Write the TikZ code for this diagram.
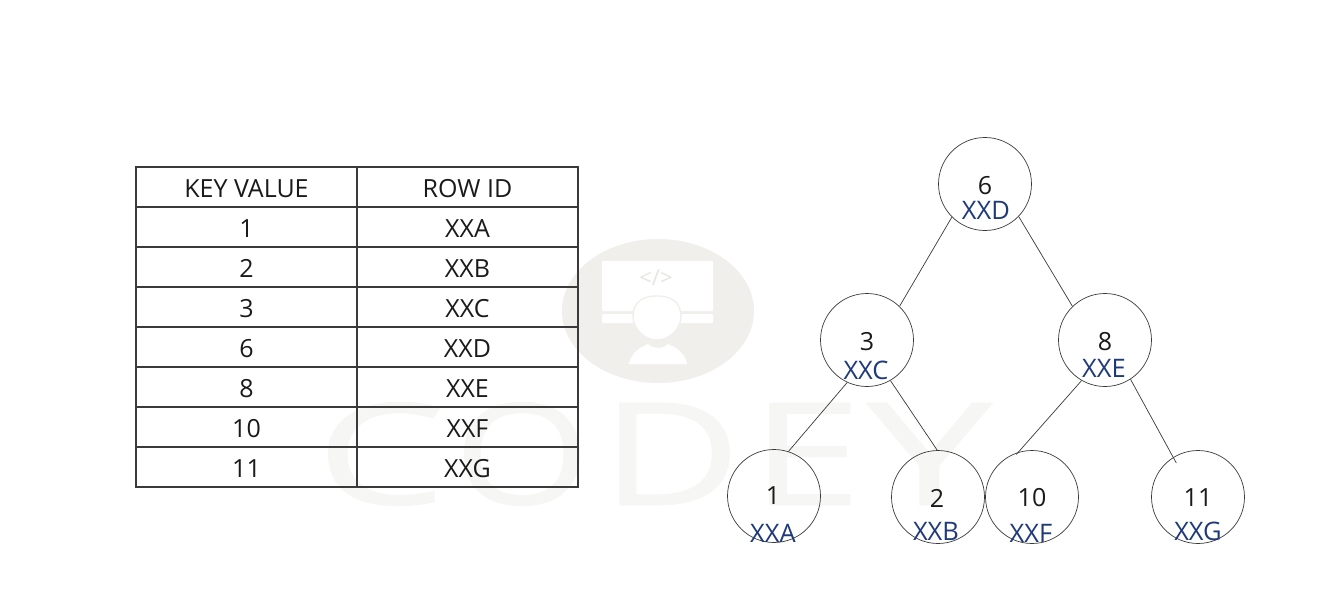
\documentclass[tikz,border=0pt]{standalone}
\usepackage{fontspec}
\setmainfont{Open Sans}
\newfontfamily\wmfont[FakeBold=0.5]{Open Sans}
\usetikzlibrary{shapes.geometric}
\definecolor{wmark}{HTML}{F6F6F5}
\definecolor{logo}{HTML}{F0EFEC}
\definecolor{logotxt}{HTML}{E6E5E1}
\definecolor{ink}{HTML}{1A1A1A}
\definecolor{blueid}{HTML}{1F3A7A}
\definecolor{rule}{HTML}{3A3A3A}
\tikzset{
  cellbox/.style={draw=rule,line width=1.1pt,minimum width=221pt,minimum height=40pt,inner sep=0pt,text=ink,text height=20pt,text depth=0pt,font=\fontsize{25}{28}\selectfont},
  treecirc/.style={circle,draw=rule,line width=0.7pt,minimum size=93pt,inner sep=0pt},
  treeedge/.style={draw=rule,line width=0.7pt},
  numlabel/.style={text=ink,inner sep=0pt,font=\fontsize{25}{28}\selectfont},
  idlabel/.style={text=blueid,inner sep=0pt,font=\fontsize{25.5}{28}\selectfont},
  wmletter/.style={text=wmark,inner sep=0pt,anchor=center}
}
\newcommand{\wml}[2]{\resizebox{#1pt}{102pt}{\wmfont\fontsize{140}{140}\selectfont #2}}
\begin{document}
\begin{tikzpicture}[x=1pt,y=-1pt]
\useasboundingbox (0,0) rectangle (1326,597);
\fill[white] (0,0) rectangle (1326,597);
% logo
\node[ellipse,fill=logo,minimum width=192pt,minimum height=144pt,inner sep=0pt] (logoback) at (658,311) {};
\fill[white,rounded corners=1pt] (602,261) rectangle (713,311);
\fill[white,rounded corners=1pt] (602,314) rectangle (713,323);
\path[fill=white,draw=logo,line width=1.4pt] (657,296) .. controls (674,296) and (681,304) .. (681,317) .. controls (681,327) and (671,340) .. (657,340) .. controls (643,340) and (633,327) .. (633,317) .. controls (633,304) and (640,296) .. (657,296) -- cycle;
\fill[white] (629,364) .. controls (631,353) and (640,347) .. (648,344) .. controls (652,349) and (664,349) .. (668,344) .. controls (676,347) and (685,353) .. (687,364) -- cycle;
\node[text=logotxt,inner sep=0pt,font=\fontsize{22}{24}\selectfont] (logocode) at (656,278) {</>};
% watermark
\node[wmletter] (wmC) at (381,454) {\wml{130}{C}};
\node[wmletter] (wmO) at (522,454) {\wml{136}{O}};
\node[wmletter] (wmD) at (671,454) {\wml{140}{D}};
\node[wmletter] (wmE) at (806,454) {\wml{112}{E}};
\node[wmletter] (wmY) at (929.5,454) {\wml{126}{Y}};
% table
\node[cellbox] (k0) at (246.5,187) {KEY VALUE};
\node[cellbox] (v0) at (467.5,187) {ROW ID};
\node[cellbox] (k1) at (246.5,227) {1};
\node[cellbox] (v1) at (467.5,227) {XXA};
\node[cellbox] (k2) at (246.5,267) {2};
\node[cellbox] (v2) at (467.5,267) {XXB};
\node[cellbox] (k3) at (246.5,307) {3};
\node[cellbox] (v3) at (467.5,307) {XXC};
\node[cellbox] (k4) at (246.5,347) {6};
\node[cellbox] (v4) at (467.5,347) {XXD};
\node[cellbox] (k5) at (246.5,387) {8};
\node[cellbox] (v5) at (467.5,387) {XXE};
\node[cellbox] (k6) at (246.5,427) {10};
\node[cellbox] (v6) at (467.5,427) {XXF};
\node[cellbox] (k7) at (246.5,467) {11};
\node[cellbox] (v7) at (467.5,467) {XXG};
% tree
\node[treecirc] (c6) at (985,184) {};
\node[treecirc] (c3) at (867,340) {};
\node[treecirc] (c8) at (1105,340) {};
\node[treecirc] (c1) at (774,496) {};
\node[treecirc] (c2) at (938,497) {};
\node[treecirc] (c10) at (1032,497) {};
\node[treecirc] (c11) at (1198,497) {};
\draw[treeedge] (c6.225) -- (c3.46);
\draw[treeedge] (c6.316) -- (c8.134);
\draw[treeedge] (c3.245) -- (c1.72);
\draw[treeedge] (c3.300) -- (c2.91);
\draw[treeedge,shorten >=-3pt] (c8.240) -- (c10.107);
\draw[treeedge,shorten >=-6.5pt] (c8.303) -- (c11.122);
\node[numlabel] (n6) at (985,186) {6};
\node[idlabel] (i6) at (986,210) {XXD};
\node[numlabel] (n3) at (867,342) {3};
\node[idlabel] (i3) at (866,370) {XXC};
\node[numlabel] (n8) at (1105,342) {8};
\node[idlabel] (i8) at (1104,368) {XXE};
\node[numlabel] (n1) at (773,496) {1};
\node[idlabel] (i1) at (773,533) {XXA};
\node[numlabel] (n2) at (937,498) {2};
\node[idlabel] (i2) at (936,531) {XXB};
\node[numlabel] (n10) at (1032,498) {10};
\node[idlabel] (i10) at (1031,533) {XXF};
\node[numlabel] (n11) at (1198,498) {11};
\node[idlabel] (i11) at (1198,531) {XXG};
\end{tikzpicture}
\end{document}
